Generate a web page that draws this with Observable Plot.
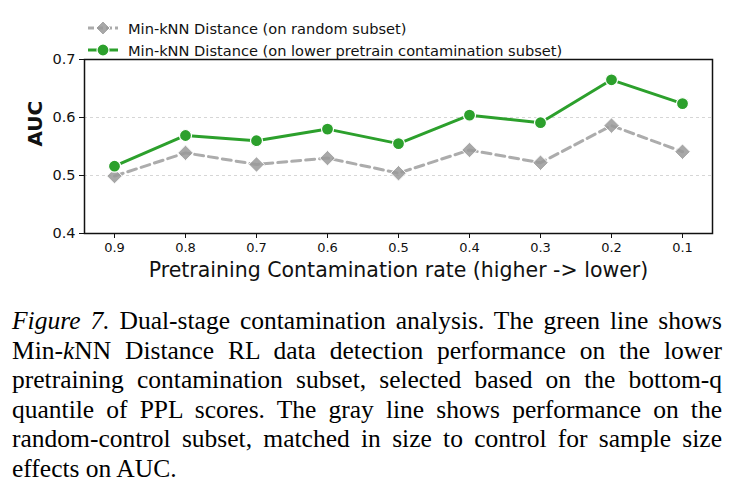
<!DOCTYPE html>
<html>
<head>
<meta charset="utf-8">
<script src="https://cdn.jsdelivr.net/npm/d3@7"></script>
<script src="https://cdn.jsdelivr.net/npm/@observablehq/plot@0.6"></script>
<style>
  body { margin: 0; background: #fff; width: 735px; height: 504px; overflow: hidden; }
  #wrap { position: relative; width: 735px; height: 504px; }
  #legend { position: absolute; left: 87px; top: 17px; font-family: "DejaVu Sans", sans-serif; font-size: 14.6px; color: #111; }
  .row { display: flex; align-items: center; height: 22px; }
  .row svg { margin-right: 9px; }
  #chart { position: absolute; left: 0; top: 0; }
  #caption { position: absolute; left: 12px; top: 306px; width: 710px; font-family: "Liberation Serif", "Times New Roman", serif; font-size: 25.5px; line-height: 29.6px; color: #000; }
  #caption div { text-align: justify; text-align-last: justify; white-space: nowrap; }
  #caption div.last { text-align-last: left; }
</style>
</head>
<body>
<div id="wrap">
  <div id="chart"></div>
  <div id="legend"></div>
  <div id="caption">
    <div><i>Figure 7.</i> Dual-stage contamination analysis. The green line shows</div>
    <div>Min-<i>k</i>NN Distance RL data detection performance on the lower</div>
    <div>pretraining contamination subset, selected based on the bottom-q</div>
    <div>quantile of PPL scores. The gray line shows performance on the</div>
    <div>random-control subset, matched in size to control for sample size</div>
    <div class="last">effects on AUC.</div>
  </div>
</div>
<script>
const rates = ["0.9", "0.8", "0.7", "0.6", "0.5", "0.4", "0.3", "0.2", "0.1"];
const randomAUC = [0.499, 0.539, 0.519, 0.530, 0.504, 0.544, 0.522, 0.586, 0.541];
const lowerAUC = [0.516, 0.569, 0.560, 0.580, 0.555, 0.604, 0.591, 0.665, 0.624];
const seriesNames = ["Min-kNN Distance (on random subset)", "Min-kNN Distance (on lower pretrain contamination subset)"];
const yTicks = [0.4, 0.5, 0.6, 0.7];
const xLabel = "Pretraining Contamination rate (higher -> lower)";
const yLabel = "AUC";

const green = "#2ca02c";
const gray = "#a3a3a3";
const grayMarker = "#999999";

const randomData = rates.map((r, i) => ({rate: r, auc: randomAUC[i]}));
const lowerData = rates.map((r, i) => ({rate: r, auc: lowerAUC[i]}));

const chart = Plot.plot({
  width: 735,
  height: 292,
  marginLeft: 84,
  marginRight: 23,
  marginTop: 59,
  marginBottom: 59,
  style: {fontFamily: "DejaVu Sans, sans-serif", color: "#111", background: "transparent"},
  x: {type: "point", domain: rates, padding: 0.4},
  y: {domain: [0.4, 0.7]},
  marks: [
    Plot.gridY([0.5, 0.6], {stroke: "#cccccc", strokeOpacity: 1, strokeDasharray: "3,3", strokeWidth: 0.8}),
    Plot.line(randomData, {x: "rate", y: "auc", stroke: gray, strokeWidth: 3, strokeDasharray: "9,5", strokeOpacity: 0.9}),
    Plot.dot(randomData, {x: "rate", y: "auc", symbol: "diamond2", r: 7, fill: grayMarker, fillOpacity: 0.85, stroke: "white", strokeWidth: 1}),
    Plot.line(lowerData, {x: "rate", y: "auc", stroke: green, strokeWidth: 3}),
    Plot.dot(lowerData, {x: "rate", y: "auc", r: 6, fill: green, stroke: "white", strokeWidth: 1.2}),
    Plot.frame({stroke: "#111", strokeWidth: 1.5}),
    Plot.axisX({tickSize: 5, tickPadding: 4, fontSize: 13, label: null, stroke: "#111"}),
    Plot.axisY(yTicks, {tickSize: 5, tickPadding: 4, fontSize: 14.5, label: null, tickFormat: d3.format(".1f"), stroke: "#111"}),
    Plot.text([xLabel], {frameAnchor: "bottom", dy: 43, fontSize: 20.5, fill: "#111"}),
    Plot.text([yLabel], {frameAnchor: "left", dx: -49, rotate: -90, fontSize: 20, fontWeight: "bold", fill: "#111"})
  ]
});
document.getElementById("chart").appendChild(chart);

// Legend
const legend = d3.select("#legend");
function swatch(row, color, dashed, symbol) {
  const svg = row.append("svg").attr("width", 32).attr("height", 16);
  svg.append("line").attr("x1", 1).attr("x2", 31).attr("y1", 8).attr("y2", 8)
    .attr("stroke", color).attr("stroke-width", 3)
    .attr("stroke-dasharray", dashed ? "6,3" : null).attr("opacity", dashed ? 0.9 : 1);
  if (symbol === "diamond") {
    svg.append("path").attr("d", "M16,1 L23,8 L16,15 L9,8 Z").attr("fill", grayMarker).attr("fill-opacity", 0.85).attr("stroke", "white").attr("stroke-width", 1);
  } else {
    svg.append("circle").attr("cx", 16).attr("cy", 8).attr("r", 6).attr("fill", color).attr("stroke", "white").attr("stroke-width", 1.2);
  }
}
const r1 = legend.append("div").attr("class", "row");
swatch(r1, gray, true, "diamond");
r1.append("span").text(seriesNames[0]);
const r2 = legend.append("div").attr("class", "row");
swatch(r2, green, false, "circle");
r2.append("span").text(seriesNames[1]);
</script>
</body>
</html>
